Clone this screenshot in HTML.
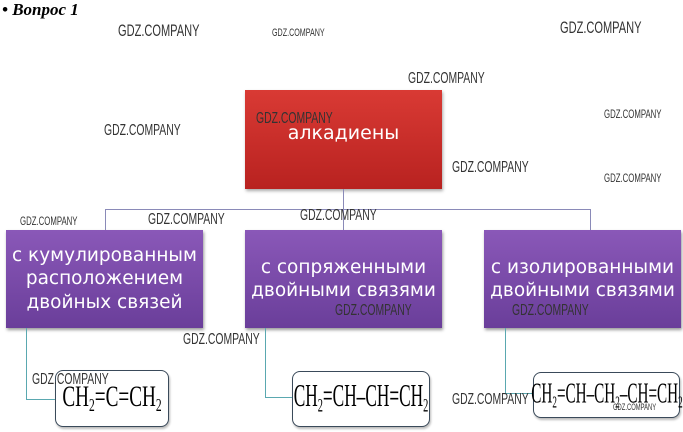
<!DOCTYPE html>
<html><head><meta charset="utf-8"><style>
body{margin:0;width:683px;height:432px;background:#fff;position:relative;overflow:hidden;font-family:"Liberation Sans",sans-serif}
.a{position:absolute}
.w{position:absolute;font-family:"Liberation Sans",sans-serif;color:#333;font-size:14px;transform:scaleX(.65);transform-origin:left top;white-space:nowrap;line-height:1}
.box{position:absolute;color:#fff;text-align:center;display:flex;align-items:center;justify-content:center;font-family:"DejaVu Sans",sans-serif;line-height:1.25}
.p{background:linear-gradient(#8a58b8,#6a3e9a);box-shadow:1px 2px 3px #999;font-size:18.5px}
.f{position:absolute;border:1.5px solid #3a4a5a;border-radius:8px;background:#fff;font-family:"Liberation Serif",serif;box-shadow:1px 2px 2px #bbb}
.f span{position:absolute;left:50%;top:50%;white-space:nowrap}
.l{position:absolute;background:#8a8ab8}
.t{position:absolute;background:#5aa8b0}
sub{font-size:0.6em;vertical-align:-0.3em;line-height:0}
</style></head><body>
<div class="a" style="left:2px;top:0;font:bold italic 17px 'Liberation Serif',serif">• Вопрос 1</div>
<div class="box" style="left:245px;top:90px;width:197px;height:99px;background:linear-gradient(#d93a34,#b82220);box-shadow:1px 2px 3px #aaa;font-size:19px;padding-bottom:12px;box-sizing:border-box">алкадиены</div>
<div class="l" style="left:343px;top:189px;width:1px;height:41px"></div>
<div class="l" style="left:105px;top:209px;width:486px;height:1px"></div>
<div class="l" style="left:105px;top:209px;width:1px;height:21px"></div>
<div class="l" style="left:590px;top:209px;width:1px;height:21px"></div>
<div class="box p" style="left:6px;top:230px;width:197px;height:98px">с кумулированным<br>расположением<br>двойных связей</div>
<div class="box p" style="left:245px;top:230px;width:197px;height:98px">с сопряженными<br>двойными связями</div>
<div class="box p" style="left:484px;top:230px;width:197px;height:98px">с изолированными<br>двойными связями</div>
<div class="t" style="left:26px;top:328px;width:1px;height:71px"></div>
<div class="t" style="left:26px;top:399px;width:30px;height:1px"></div>
<div class="t" style="left:265px;top:328px;width:1px;height:69px"></div>
<div class="t" style="left:265px;top:397px;width:27px;height:1px"></div>
<div class="t" style="left:505px;top:328px;width:1px;height:65px"></div>
<div class="t" style="left:505px;top:393px;width:28px;height:1px"></div>
<div class="f" style="left:55px;top:370px;width:112px;height:55px"><span style="font-size:24px;transform:translate(-50%,-55%) scale(.8,1.25)">CH<sub>2</sub>=C=CH<sub>2</sub></span></div>
<div class="f" style="left:292px;top:371px;width:136px;height:54px"><span style="font-size:24px;transform:translate(-50%,-55%) scale(.72,1.3)">CH<sub>2</sub>=CH–CH=CH<sub>2</sub></span></div>
<div class="f" style="left:533px;top:372px;width:145px;height:44px"><span style="font-size:23px;transform:translate(-50%,-55%) scale(.66,1.25)">CH<sub>2</sub>=CH–CH<sub>2</sub>–CH=CH<sub>2</sub></span></div>
<div class="w" style="left:118px;top:22px;font-size:17px">GDZ.COMPANY</div>
<div class="w" style="left:272px;top:28px;font-size:11px">GDZ.COMPANY</div>
<div class="w" style="left:560px;top:19px;font-size:17px">GDZ.COMPANY</div>
<div class="w" style="left:408px;top:71px;font-size:16px">GDZ.COMPANY</div>
<div class="w" style="left:104px;top:123px;font-size:16px">GDZ.COMPANY</div>
<div class="w" style="left:256px;top:111px;font-size:16px">GDZ.COMPANY</div>
<div class="w" style="left:604px;top:108px;font-size:12px">GDZ.COMPANY</div>
<div class="w" style="left:452px;top:160px;font-size:16px">GDZ.COMPANY</div>
<div class="w" style="left:604px;top:172px;font-size:12px">GDZ.COMPANY</div>
<div class="w" style="left:20px;top:215px;font-size:12px">GDZ.COMPANY</div>
<div class="w" style="left:148px;top:212px;font-size:16px">GDZ.COMPANY</div>
<div class="w" style="left:300px;top:208px;font-size:16px">GDZ.COMPANY</div>
<div class="w" style="left:335px;top:303px;font-size:16px">GDZ.COMPANY</div>
<div class="w" style="left:512px;top:303px;font-size:16px">GDZ.COMPANY</div>
<div class="w" style="left:183px;top:332px;font-size:16px">GDZ.COMPANY</div>
<div class="w" style="left:32px;top:372px;font-size:16px">GDZ.COMPANY</div>
<div class="w" style="left:452px;top:392px;font-size:16px">GDZ.COMPANY</div>
<div class="w" style="left:613px;top:403px;font-size:9px">GDZ.COMPANY</div>
</body></html>
